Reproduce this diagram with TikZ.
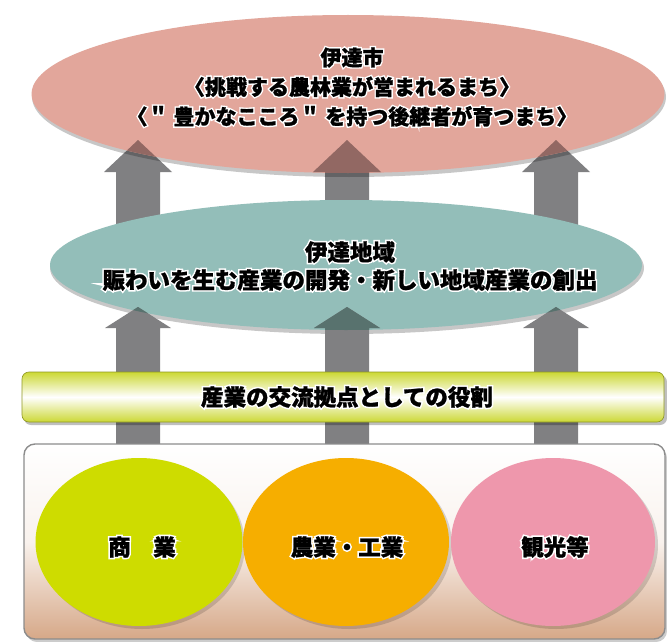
\documentclass[tikz,border=0pt]{standalone}
\usepackage{fontspec}
\setmainfont{Noto Sans CJK JP}[BoldFeatures={FakeBold=1.2}]
\newfontfamily\halofont{Noto Sans CJK JP}[FakeBold=15, Color=FFFFFF]
\newcommand\glow[1]{\leavevmode\rlap{\halofont #1}#1}
\usetikzlibrary{shapes.geometric}
\definecolor{arrowgray}{RGB}{128,128,130}
\definecolor{toppink}{RGB}{226,166,155}
\definecolor{toppinkdark}{RGB}{146,104,99}
\definecolor{midteal}{RGB}{147,190,185}
\definecolor{midtealdark}{RGB}{88,114,110}
\definecolor{bargreen}{RGB}{204,216,52}
\definecolor{boxtan}{RGB}{214,168,136}
\definecolor{boxedge}{RGB}{140,140,140}
\definecolor{cgreen}{RGB}{206,220,0}
\definecolor{corange}{RGB}{246,174,0}
\definecolor{cpink}{RGB}{238,151,172}
\begin{document}
\begin{tikzpicture}[x=1pt,y=-1pt,
  bigtext/.style={font=\fontsize{21}{29.5}\selectfont\bfseries, align=center, inner sep=0},
  midtext/.style={font=\fontsize{22.5}{28}\selectfont\bfseries, align=center, inner sep=0},
  oval/.style={ellipse, inner sep=0, draw=none},
  shade/.style={fill=black, fill opacity=0.22}]
\useasboundingbox (0,0) rectangle (667,642);
\fill[white] (0,0) rectangle (667,642);

% upper arrows (from region ellipse up to city ellipse)
\foreach \c in {138,347,556}{
  \fill[arrowgray] ({\c-22},265) -- ({\c-22},172) -- ({\c-34},172) -- (\c,140)
    -- ({\c+34},172) -- ({\c+22},172) -- ({\c+22},265) -- cycle;
}

% middle ellipse
\fill[shade] (347,268) ellipse [x radius=297, y radius=66];
\node[oval, fill=midteal, minimum width=592pt, minimum height=130pt] (region) at (346,265) {};

% lower arrows
\foreach \c in {138,347,556}{
  \fill[arrowgray] ({\c-22},444) -- ({\c-22},328) -- ({\c-33},328) -- (\c,307)
    -- ({\c+33},328) -- ({\c+22},328) -- ({\c+22},444) -- cycle;
}
\begin{scope}
  \clip (346,265) ellipse [x radius=296, y radius=65];
  \foreach \c in {138,347,556}{
    \fill[midtealdark] ({\c-22},444) -- ({\c-22},328) -- ({\c-33},328) -- (\c,307)
      -- ({\c+33},328) -- ({\c+22},328) -- ({\c+22},444) -- cycle;
  }
\end{scope}

% top ellipse
\fill[shade] (349,97) ellipse [x radius=317, y radius=80];
\node[oval, fill=toppink, minimum width=633pt, minimum height=158pt] (city) at (348,94) {};
\begin{scope}
  \clip (348,94) ellipse [x radius=316.5, y radius=79];
  \foreach \c in {138,347,556}{
    \fill[toppinkdark] ({\c-22},265) -- ({\c-22},172) -- ({\c-34},172) -- (\c,140)
      -- ({\c+34},172) -- ({\c+22},172) -- ({\c+22},265) -- cycle;
  }
\end{scope}

% bar
\fill[black, opacity=0.25, rounded corners=7pt] (24,375) rectangle (667,425);
\node[draw=bargreen!70!black, line width=0.6pt, rounded corners=7pt,
      top color=bargreen, bottom color=bargreen, middle color=white,
      minimum width=642pt, minimum height=50pt, inner sep=0] (bar) at (343,397) {};

% bottom box
\fill[black, opacity=0.2, rounded corners=11pt] (26,447) rectangle (667,642);
\node[draw=boxedge, line width=1.4pt, rounded corners=11pt,
      top color=white, bottom color=boxtan, middle color=white!85!boxtan,
      minimum width=641pt, minimum height=195pt, inner sep=0] (base) at (344.5,541.5) {};

% circles
\fill[black, opacity=0.15] (142,545) ellipse [x radius=103, y radius=84];
\node[oval, fill=cgreen, minimum width=207pt, minimum height=168pt] (c1) at (139,542) {};
\fill[black, opacity=0.15] (349,545) ellipse [x radius=103, y radius=84];
\node[oval, fill=corange, minimum width=206pt, minimum height=168pt] (c2) at (346,542) {};
\fill[black, opacity=0.15] (556,545) ellipse [x radius=102, y radius=84];
\node[oval, fill=cpink, minimum width=204pt, minimum height=168pt] (c3) at (553,542) {};

% texts
\node[bigtext] (citytext) at (352,87) {\glow{伊達市}\\\glow{〈挑戦する農林業が営まれるまち〉}\\\glow{〈＂ 豊かなこころ＂ を持つ後継者が育つまち〉}};
\node[midtext] (regiontext) at (350,266) {\glow{伊達地域}\\\glow{賑わいを生む産業の開発・新しい地域産業の創出}};
\node[midtext] (bartext) at (347,397) {\glow{産業の交流拠点としての役割}};
\node[midtext] (t1) at (142,547) {\glow{商　業}};
\node[midtext] (t2) at (347,547) {\glow{農業・工業}};
\node[midtext] (t3) at (555,547) {\glow{観光等}};
\end{tikzpicture}
\end{document}
